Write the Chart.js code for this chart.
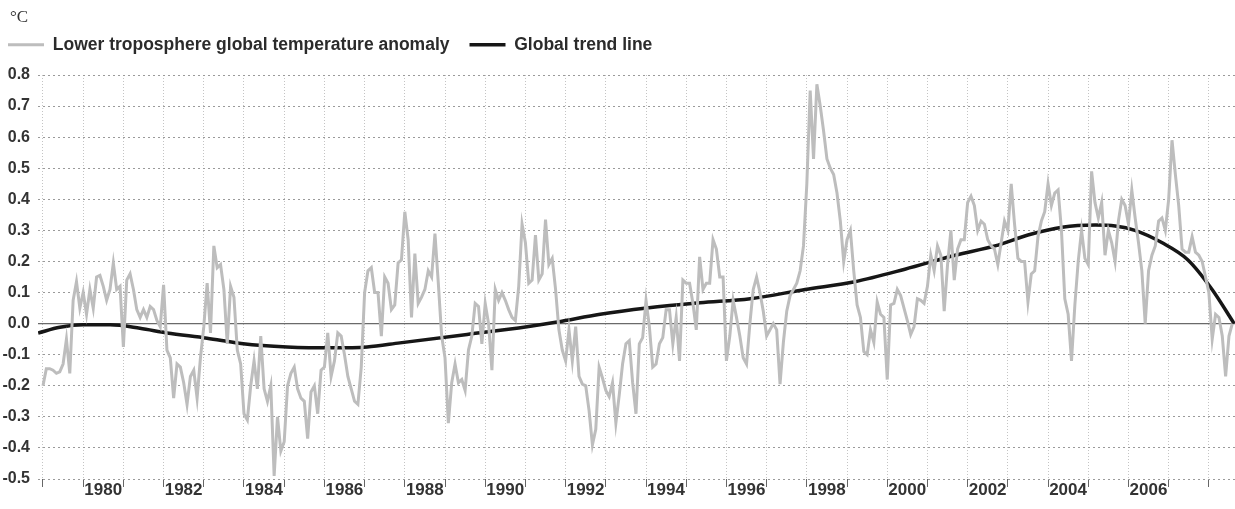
<!DOCTYPE html>
<html>
<head>
<meta charset="utf-8">
<script src="https://cdn.jsdelivr.net/npm/chart.js@4"></script>
<style>
  body { margin: 0; background: #fff; }
  #wrap { width: 1235px; height: 509px; }
</style>
</head>
<body>
<div id="wrap"><canvas id="chart"></canvas></div>
<script>
// monthly anomaly, starting at the 1979 gridline
const startYear = 1979;
const anomaly = [
  -0.20, -0.145, -0.145, -0.15, -0.16, -0.155, -0.13, -0.05, -0.16, 0.075, 0.135, 0.05,
  0.10, 0.03, 0.11, 0.05, 0.15, 0.155, 0.12, 0.075, 0.11, 0.195, 0.11, 0.12,
  -0.075, 0.14, 0.16, 0.11, 0.045, 0.02, 0.045, 0.02, 0.055, 0.045, 0.01, -0.01,
  0.125, -0.085, -0.11, -0.24, -0.13, -0.14, -0.19, -0.26, -0.17, -0.15, -0.24, -0.11,
  -0.01, 0.13, -0.03, 0.25, 0.18, 0.19, 0.11, -0.065, 0.12, 0.085, -0.085, -0.13,
  -0.29, -0.31, -0.20, -0.12, -0.21, -0.04, -0.21, -0.25, -0.20, -0.49, -0.30, -0.41,
  -0.38, -0.20, -0.16, -0.14, -0.21, -0.24, -0.25, -0.37, -0.22, -0.20, -0.29, -0.15,
  -0.14, -0.03, -0.17, -0.12, -0.03, -0.04, -0.10, -0.17, -0.21, -0.25, -0.26, -0.14,
  0.10, 0.17, 0.18, 0.10, 0.10, -0.04, 0.15, 0.13, 0.045, 0.06, 0.195, 0.205,
  0.36, 0.27, 0.02, 0.225, 0.065, 0.085, 0.11, 0.17, 0.15, 0.29, 0.13, -0.04,
  -0.11, -0.32, -0.19, -0.13, -0.19, -0.18, -0.215, -0.085, -0.04, 0.065, 0.055, -0.065,
  0.065, 0.0, -0.15, 0.11, 0.075, 0.10, 0.075, 0.045, 0.02, 0.01, 0.12, 0.32,
  0.26, 0.13, 0.14, 0.285, 0.14, 0.16, 0.335, 0.19, 0.21, 0.11, -0.02, -0.085,
  -0.12, -0.02, -0.12, -0.01, -0.17, -0.195, -0.20, -0.28, -0.39, -0.34, -0.14, -0.175,
  -0.215, -0.235, -0.19, -0.32, -0.23, -0.13, -0.065, -0.055, -0.19, -0.29, -0.065, -0.045,
  0.075, -0.01, -0.14, -0.13, -0.065, -0.045, 0.045, 0.045, -0.065, 0.02, -0.12, 0.14,
  0.13, 0.13, 0.065, -0.02, 0.215, 0.11, 0.13, 0.13, 0.27, 0.24, 0.15, 0.15,
  -0.12, -0.04, 0.075, 0.02, -0.04, -0.11, -0.13, 0.0, 0.11, 0.15, 0.10, 0.04,
  -0.04, -0.02, 0.0, -0.02, -0.195, -0.06, 0.04, 0.09, 0.11, 0.13, 0.17, 0.25,
  0.45, 0.75, 0.53, 0.77, 0.70, 0.62, 0.53, 0.50, 0.48, 0.42, 0.33, 0.20,
  0.27, 0.30, 0.17, 0.06, 0.02, -0.09, -0.10, -0.02, -0.06, 0.07, 0.03, 0.02,
  -0.18, 0.06, 0.065, 0.11, 0.09, 0.05, 0.01, -0.035, -0.01, 0.08, 0.075, 0.065,
  0.12, 0.22, 0.17, 0.25, 0.22, 0.04, 0.19, 0.30, 0.14, 0.24, 0.27, 0.27,
  0.39, 0.41, 0.38, 0.30, 0.33, 0.32, 0.27, 0.25, 0.24, 0.19, 0.26, 0.33,
  0.30, 0.45, 0.32, 0.21, 0.20, 0.20, 0.07, 0.16, 0.17, 0.28, 0.33, 0.36,
  0.45, 0.38, 0.42, 0.43, 0.30, 0.08, 0.03, -0.12, 0.06, 0.20, 0.30, 0.21,
  0.19, 0.49, 0.39, 0.34, 0.39, 0.22, 0.30, 0.26, 0.20, 0.33, 0.40, 0.38,
  0.32, 0.43, 0.34, 0.26, 0.17, 0.0, 0.17, 0.22, 0.25, 0.33, 0.34, 0.30,
  0.40, 0.59, 0.48, 0.38, 0.24, 0.23, 0.23, 0.28, 0.23, 0.22, 0.20, 0.15,
  0.10, -0.05, 0.03, 0.02, -0.04, -0.17, -0.04, 0.00
];

const trendYears = [1978.88, 1979.42, 1980.0, 1980.67, 1981.41, 1982.08, 1983.08, 1983.98,
  1985.07, 1986.21, 1987.06, 1987.88, 1989.55, 1991.04, 1991.79, 1992.86, 1994.02,
  1995.34, 1996.59, 1997.96, 1999.2, 2000.44, 2001.69, 2002.68, 2003.5, 2004.35,
  2005.17, 2005.67, 2006.16, 2006.84, 2007.48, 2008.08, 2008.63];
const trendValues = [-0.03, -0.012, -0.004, -0.004, -0.015, -0.03, -0.047, -0.065,
  -0.075, -0.078, -0.075, -0.062, -0.035, -0.01, 0.005, 0.03, 0.05,
  0.067, 0.08, 0.11, 0.135, 0.175, 0.22, 0.25, 0.285, 0.31,
  0.317, 0.314, 0.30, 0.26, 0.205, 0.11, 0.0];

const yearTicks = [];
for (let y = 1979; y <= 2008; y++) yearTicks.push(y);
const labelledYears = [1980, 1982, 1984, 1986, 1988, 1990, 1992, 1994, 1996, 1998, 2000, 2002, 2004, 2006];

const fontFam = "'Liberation Sans', Arial, sans-serif";

const extras = {
  id: "extras",
  afterLayout(chart) {
    // nudge the unit label and legend to where they sit in the original
    if (chart.titleBlock) chart.titleBlock.left += 10;
    if (chart.legend) chart.legend.left -= 12;
  },
  beforeDatasetsDraw(chart) {
    const { ctx, chartArea, scales } = chart;
    const y = scales.y.getPixelForValue(0);
    ctx.save();
    ctx.strokeStyle = "#6a6a6a";
    ctx.lineWidth = 1.3;
    ctx.beginPath();
    ctx.moveTo(chartArea.left, y);
    ctx.lineTo(chartArea.right, y);
    ctx.stroke();
    ctx.restore();
  }
};

const ctx = document.getElementById("chart").getContext("2d");
const chart = new Chart(ctx, {
  type: "line",
  data: {
    datasets: [
      {
        label: "Lower troposphere global temperature anomaly",
        data: anomaly.map((v, i) => ({ x: startYear + i / 12, y: v })),
        borderColor: "#bdbdbd",
        backgroundColor: "#bdbdbd",
        borderWidth: 3,
        pointRadius: 0,
        pointStyle: "line",
        tension: 0,
      },
      {
        label: "Global trend line",
        data: trendYears.map((x, i) => ({ x: x, y: trendValues[i] })),
        borderColor: "#161616",
        backgroundColor: "#161616",
        borderWidth: 3.5,
        pointRadius: 0,
        pointStyle: "line",
        cubicInterpolationMode: "monotone",
      },
    ],
  },
  options: {
    responsive: true,
    maintainAspectRatio: false,
    animation: false,
    layout: { padding: { left: 0, right: 0, top: 0, bottom: 0 } },
    plugins: {
      tooltip: { enabled: false },
      title: {
        display: true,
        text: "°C",
        align: "start",
        color: "#333",
        font: { family: "'Liberation Serif', serif", size: 17, weight: "normal", lineHeight: 1 },
        padding: { top: 9, bottom: -10 },
      },
      legend: {
        display: true,
        align: "start",
        labels: {
          usePointStyle: true,
          pointStyleWidth: 36,
          boxHeight: 10,
          padding: 20,
          color: "#2b2b2b",
          font: { family: fontFam, size: 17.5, weight: "bold" },
        },
      },
      // empty spacer between legend and plot
      subtitle: {
        display: true,
        text: "",
        weight: 500,
        font: { size: 1, lineHeight: 1 },
        padding: { top: 10.5, bottom: 0 },
      },
    },
    scales: {
      x: {
        type: "linear",
        min: 1978.876,
        max: 2008.65,
        afterBuildTicks: (scale) => {
          scale.ticks = yearTicks.map((v) => ({ value: v }));
        },
        afterFit: (scale) => { scale.height = 30; },
        grid: {
          color: "#c4c4c4",
          lineWidth: 1,
          tickColor: "#666",
          tickLength: 8,
          tickBorderDash: [],
        },
        border: { display: false, dash: [1, 2] },
        ticks: {
          autoSkip: false,
          maxRotation: 0,
          labelOffset: 20,
          padding: -7,
          color: "#333",
          font: { family: fontFam, size: 17, weight: "bold" },
          callback: (v) => (labelledYears.includes(v) ? String(v) : ""),
        },
      },
      y: {
        min: -0.5,
        max: 0.8,
        afterFit: (scale) => { scale.width = 38; },
        grid: {
          drawTicks: false,
          color: (c) => (Math.abs(c.tick.value) < 1e-9 ? "rgba(0,0,0,0)" : "#9a9a9a"),
          lineWidth: 1,
        },
        border: { display: false, dash: [2, 3] },
        ticks: {
          stepSize: 0.1,
          padding: 8,
          color: "#333",
          font: { family: fontFam, size: 16, weight: "bold" },
          callback: (v) => (Math.abs(v) < 1e-9 ? "0.0" : v.toFixed(1)),
        },
      },
    },
  },
  plugins: [extras],
});
</script>
</body>
</html>
